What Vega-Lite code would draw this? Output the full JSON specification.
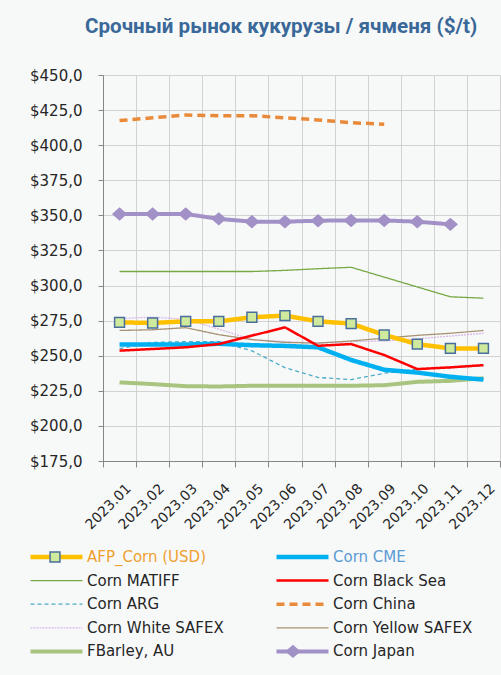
{
  "$schema": "https://vega.github.io/schema/vega-lite/v6.json",
  "width": 397,
  "height": 386,
  "autosize": {"type": "none"},
  "padding": {"left": 103, "top": 75, "right": 1, "bottom": 214},
  "background": "#F7F9F9",
  "title": {
    "text": "Срочный рынок кукурузы / ячменя ($/t)",
    "frame": "group",
    "anchor": "start",
    "dx": -18,
    "offset": 14,
    "baseline": "alphabetic",
    "font": "Roboto",
    "fontSize": 20.6,
    "fontWeight": "bold",
    "color": "#3A6898"
  },
  "config": {
    "view": {"stroke": null},
    "axis": {
      "domainColor": "#868686",
      "tickColor": "#868686",
      "gridColor": "#D2D2D2",
      "labelColor": "#262626",
      "labelFont": "DejaVu Sans",
      "labelOverlap": false
    }
  },
  "data": {
    "values": [
      {"series": "FBarley, AU", "month": "2023.01", "value": 231},
      {"series": "FBarley, AU", "month": "2023.02", "value": 229.8},
      {"series": "FBarley, AU", "month": "2023.03", "value": 228.3},
      {"series": "FBarley, AU", "month": "2023.04", "value": 228.1},
      {"series": "FBarley, AU", "month": "2023.05", "value": 228.6},
      {"series": "FBarley, AU", "month": "2023.06", "value": 228.6},
      {"series": "FBarley, AU", "month": "2023.07", "value": 228.6},
      {"series": "FBarley, AU", "month": "2023.08", "value": 228.6},
      {"series": "FBarley, AU", "month": "2023.09", "value": 229},
      {"series": "FBarley, AU", "month": "2023.10", "value": 231.4},
      {"series": "FBarley, AU", "month": "2023.11", "value": 232.1},
      {"series": "FBarley, AU", "month": "2023.12", "value": 234},
      {"series": "Corn ARG", "month": "2023.01", "value": 255},
      {"series": "Corn ARG", "month": "2023.02", "value": 259.5},
      {"series": "Corn ARG", "month": "2023.03", "value": 260},
      {"series": "Corn ARG", "month": "2023.04", "value": 260},
      {"series": "Corn ARG", "month": "2023.05", "value": 253.5},
      {"series": "Corn ARG", "month": "2023.06", "value": 241.5},
      {"series": "Corn ARG", "month": "2023.07", "value": 234.5},
      {"series": "Corn ARG", "month": "2023.08", "value": 233},
      {"series": "Corn ARG", "month": "2023.09", "value": 237.5},
      {"series": "Corn ARG", "month": "2023.10", "value": 240.5},
      {"series": "Corn ARG", "month": "2023.11", "value": 241.5},
      {"series": "Corn ARG", "month": "2023.12", "value": 243},
      {"series": "Corn White  SAFEX", "month": "2023.01", "value": 276.5},
      {"series": "Corn White  SAFEX", "month": "2023.02", "value": 277.5},
      {"series": "Corn White  SAFEX", "month": "2023.03", "value": 276},
      {"series": "Corn White  SAFEX", "month": "2023.04", "value": 269},
      {"series": "Corn White  SAFEX", "month": "2023.05", "value": 261.5},
      {"series": "Corn White  SAFEX", "month": "2023.06", "value": 260},
      {"series": "Corn White  SAFEX", "month": "2023.07", "value": 259},
      {"series": "Corn White  SAFEX", "month": "2023.08", "value": 260},
      {"series": "Corn White  SAFEX", "month": "2023.09", "value": 260.5},
      {"series": "Corn White  SAFEX", "month": "2023.10", "value": 262},
      {"series": "Corn White  SAFEX", "month": "2023.11", "value": 264},
      {"series": "Corn White  SAFEX", "month": "2023.12", "value": 266},
      {"series": "Corn Yellow SAFEX", "month": "2023.01", "value": 268},
      {"series": "Corn Yellow SAFEX", "month": "2023.02", "value": 268.5},
      {"series": "Corn Yellow SAFEX", "month": "2023.03", "value": 270},
      {"series": "Corn Yellow SAFEX", "month": "2023.04", "value": 265},
      {"series": "Corn Yellow SAFEX", "month": "2023.05", "value": 261.5},
      {"series": "Corn Yellow SAFEX", "month": "2023.06", "value": 259.5},
      {"series": "Corn Yellow SAFEX", "month": "2023.07", "value": 259},
      {"series": "Corn Yellow SAFEX", "month": "2023.08", "value": 260.5},
      {"series": "Corn Yellow SAFEX", "month": "2023.09", "value": 262.5},
      {"series": "Corn Yellow SAFEX", "month": "2023.10", "value": 264.5},
      {"series": "Corn Yellow SAFEX", "month": "2023.11", "value": 266},
      {"series": "Corn Yellow SAFEX", "month": "2023.12", "value": 268},
      {"series": "Corn MATIFF", "month": "2023.01", "value": 310},
      {"series": "Corn MATIFF", "month": "2023.02", "value": 310},
      {"series": "Corn MATIFF", "month": "2023.03", "value": 310},
      {"series": "Corn MATIFF", "month": "2023.04", "value": 310},
      {"series": "Corn MATIFF", "month": "2023.05", "value": 310},
      {"series": "Corn MATIFF", "month": "2023.06", "value": 310.8},
      {"series": "Corn MATIFF", "month": "2023.07", "value": 312},
      {"series": "Corn MATIFF", "month": "2023.08", "value": 313},
      {"series": "Corn MATIFF", "month": "2023.09", "value": 306},
      {"series": "Corn MATIFF", "month": "2023.10", "value": 299},
      {"series": "Corn MATIFF", "month": "2023.11", "value": 292},
      {"series": "Corn MATIFF", "month": "2023.12", "value": 291},
      {"series": "Corn China", "month": "2023.01", "value": 417.5},
      {"series": "Corn China", "month": "2023.02", "value": 419.5},
      {"series": "Corn China", "month": "2023.03", "value": 421.5},
      {"series": "Corn China", "month": "2023.04", "value": 421},
      {"series": "Corn China", "month": "2023.05", "value": 421},
      {"series": "Corn China", "month": "2023.06", "value": 419.5},
      {"series": "Corn China", "month": "2023.07", "value": 418},
      {"series": "Corn China", "month": "2023.08", "value": 416},
      {"series": "Corn China", "month": "2023.09", "value": 415},
      {"series": "Corn Japan", "month": "2023.01", "value": 351},
      {"series": "Corn Japan", "month": "2023.02", "value": 351},
      {"series": "Corn Japan", "month": "2023.03", "value": 351},
      {"series": "Corn Japan", "month": "2023.04", "value": 347.5},
      {"series": "Corn Japan", "month": "2023.05", "value": 345.5},
      {"series": "Corn Japan", "month": "2023.06", "value": 345.5},
      {"series": "Corn Japan", "month": "2023.07", "value": 346.2},
      {"series": "Corn Japan", "month": "2023.08", "value": 346.4},
      {"series": "Corn Japan", "month": "2023.09", "value": 346.4},
      {"series": "Corn Japan", "month": "2023.10", "value": 345.5},
      {"series": "Corn Japan", "month": "2023.11", "value": 343.6},
      {"series": "Corn CME", "month": "2023.01", "value": 258},
      {"series": "Corn CME", "month": "2023.02", "value": 258},
      {"series": "Corn CME", "month": "2023.03", "value": 258},
      {"series": "Corn CME", "month": "2023.04", "value": 258.5},
      {"series": "Corn CME", "month": "2023.05", "value": 257.5},
      {"series": "Corn CME", "month": "2023.06", "value": 257},
      {"series": "Corn CME", "month": "2023.07", "value": 256},
      {"series": "Corn CME", "month": "2023.08", "value": 247},
      {"series": "Corn CME", "month": "2023.09", "value": 240},
      {"series": "Corn CME", "month": "2023.10", "value": 238},
      {"series": "Corn CME", "month": "2023.11", "value": 235},
      {"series": "Corn CME", "month": "2023.12", "value": 233},
      {"series": "Corn Black Sea", "month": "2023.01", "value": 253.6},
      {"series": "Corn Black Sea", "month": "2023.02", "value": 254.8},
      {"series": "Corn Black Sea", "month": "2023.03", "value": 256},
      {"series": "Corn Black Sea", "month": "2023.04", "value": 258.3},
      {"series": "Corn Black Sea", "month": "2023.05", "value": 264.3},
      {"series": "Corn Black Sea", "month": "2023.06", "value": 270.2},
      {"series": "Corn Black Sea", "month": "2023.07", "value": 257.1},
      {"series": "Corn Black Sea", "month": "2023.08", "value": 258.3},
      {"series": "Corn Black Sea", "month": "2023.09", "value": 250.5},
      {"series": "Corn Black Sea", "month": "2023.10", "value": 240.5},
      {"series": "Corn Black Sea", "month": "2023.11", "value": 241.7},
      {"series": "Corn Black Sea", "month": "2023.12", "value": 243.3},
      {"series": "AFP_Corn (USD)", "month": "2023.01", "value": 273.8},
      {"series": "AFP_Corn (USD)", "month": "2023.02", "value": 273.3},
      {"series": "AFP_Corn (USD)", "month": "2023.03", "value": 274.5},
      {"series": "AFP_Corn (USD)", "month": "2023.04", "value": 274.5},
      {"series": "AFP_Corn (USD)", "month": "2023.05", "value": 277.4},
      {"series": "AFP_Corn (USD)", "month": "2023.06", "value": 278.6},
      {"series": "AFP_Corn (USD)", "month": "2023.07", "value": 274.5},
      {"series": "AFP_Corn (USD)", "month": "2023.08", "value": 272.9},
      {"series": "AFP_Corn (USD)", "month": "2023.09", "value": 264.8},
      {"series": "AFP_Corn (USD)", "month": "2023.10", "value": 258.3},
      {"series": "AFP_Corn (USD)", "month": "2023.11", "value": 255.2},
      {"series": "AFP_Corn (USD)", "month": "2023.12", "value": 255.2}
    ]
  },
  "encoding": {
    "x": {
      "field": "month", "type": "ordinal", "bandPosition": 0.5,
      "scale": {"type": "band", "paddingInner": 0, "paddingOuter": 0},
      "axis": {
        "title": null, "labelAngle": -45, "labelAlign": "right", "labelBaseline": "middle",
        "labelFontSize": 14, "labelPadding": 19, "labelOffset": 9,
        "tickBand": "extent", "grid": true, "tickSize": 6
      }
    },
    "y": {
      "field": "value", "type": "quantitative",
      "scale": {"domain": [175, 450], "nice": false, "zero": false},
      "axis": {
        "title": null, "values": [175, 200, 225, 250, 275, 300, 325, 350, 375, 400, 425, 450],
        "labelExpr": "'$' + replace(format(datum.value, '.1f'), '.', ',')",
        "labelFontSize": 15, "labelPadding": 16, "tickSize": 5, "grid": true
      }
    }
  },
  "layer": [
    {
      "mark": {"type": "line", "strokeJoin": "round"},
      "encoding": {
        "color": {
          "field": "series", "type": "nominal",
          "scale": {
            "domain": ["AFP_Corn (USD)", "Corn MATIFF", "Corn ARG", "Corn White  SAFEX", "FBarley, AU", "Corn CME", "Corn Black Sea", "Corn China", "Corn Yellow SAFEX", "Corn Japan"],
            "range": ["#FFC000", "#76A844", "#4BACC6", "#D9B8E6", "#A9C47F", "#00B0F0", "#FF0000", "#E98A3A", "#A89274", "#A291C6"]
          },
          "legend": {
            "title": null, "orient": "none", "legendX": -75, "legendY": 472, "columns": 2,
            "columnPadding": 45, "rowPadding": 3.6, "clipHeight": 20, "symbolSize": 2704,
            "symbolType": "stroke", "labelOffset": 2, "labelFont": "DejaVu Sans", "labelFontSize": 15,
            "labelColor": "#262626", "labelLimit": 300,
            "encode": {"labels": {"update": {"fill": {"signal": "datum.value === 'AFP_Corn (USD)' ? '#F0A030' : datum.value === 'Corn CME' ? '#5B9BD5' : '#262626'"}}}}
          }
        },
        "strokeDash": {
          "field": "series", "type": "nominal",
          "scale": {
            "domain": ["AFP_Corn (USD)", "Corn MATIFF", "Corn ARG", "Corn White  SAFEX", "FBarley, AU", "Corn CME", "Corn Black Sea", "Corn China", "Corn Yellow SAFEX", "Corn Japan"],
            "range": [[1, 0], [1, 0], [4, 3], [2, 1], [1, 0], [1, 0], [1, 0], [8, 5], [1, 0], [1, 0]]
          },
          "legend": {
            "title": null, "orient": "none", "legendX": -75, "legendY": 472, "columns": 2,
            "columnPadding": 45, "rowPadding": 3.6, "clipHeight": 20, "symbolSize": 2704,
            "symbolType": "stroke", "labelOffset": 2, "labelFont": "DejaVu Sans", "labelFontSize": 15,
            "labelColor": "#262626", "labelLimit": 300,
            "encode": {"labels": {"update": {"fill": {"signal": "datum.value === 'AFP_Corn (USD)' ? '#F0A030' : datum.value === 'Corn CME' ? '#5B9BD5' : '#262626'"}}}}
          }
        },
        "strokeWidth": {
          "field": "series", "type": "nominal",
          "scale": {
            "type": "ordinal",
            "domain": ["AFP_Corn (USD)", "Corn MATIFF", "Corn ARG", "Corn White  SAFEX", "FBarley, AU", "Corn CME", "Corn Black Sea", "Corn China", "Corn Yellow SAFEX", "Corn Japan"],
            "range": [4.5, 1.3, 1.3, 1.3, 4, 4.5, 2.5, 3.5, 1.3, 4]
          },
          "legend": {
            "title": null, "orient": "none", "legendX": -75, "legendY": 472, "columns": 2,
            "columnPadding": 45, "rowPadding": 3.6, "clipHeight": 20, "symbolSize": 2704,
            "symbolType": "stroke", "labelOffset": 2, "labelFont": "DejaVu Sans", "labelFontSize": 15,
            "labelColor": "#262626", "labelLimit": 300,
            "encode": {"labels": {"update": {"fill": {"signal": "datum.value === 'AFP_Corn (USD)' ? '#F0A030' : datum.value === 'Corn CME' ? '#5B9BD5' : '#262626'"}}}}
          }
        }
      }
    },
    {
      "transform": [{"filter": "datum.series === 'AFP_Corn (USD)' || datum.series === 'Corn Japan'"}],
      "mark": {"type": "point", "filled": true, "size": 2704, "strokeWidth": 1.5, "opacity": 1},
      "encoding": {
        "shape": {
          "field": "series", "type": "nominal",
          "scale": {
            "domain": ["AFP_Corn (USD)", "Corn MATIFF", "Corn ARG", "Corn White  SAFEX", "FBarley, AU", "", "Corn CME", "Corn Black Sea", "Corn China", "Corn Yellow SAFEX", "Corn Japan", " "],
            "range": ["M-0.19,-0.19H0.19V0.19H-0.19Z", "M0,0Z", "M0,0Z", "M0,0Z", "M0,0Z", "M0,0Z", "M0,0Z", "M0,0Z", "M0,0Z", "M0,0Z", "M-0.25,0L0,-0.22L0.25,0L0,0.22Z", "M0,0Z"]
          },
          "legend": {
            "title": null, "orient": "none", "legendX": -75, "legendY": 472, "columns": 2,
            "columnPadding": 182, "rowPadding": 3.6, "clipHeight": 20, "symbolSize": 2704,
            "labelOffset": 2, "labelExpr": "''", "symbolStrokeWidth": 1.5
          }
        },
        "fill": {
          "field": "series", "type": "nominal",
          "scale": {
            "domain": ["AFP_Corn (USD)", "Corn MATIFF", "Corn ARG", "Corn White  SAFEX", "FBarley, AU", "", "Corn CME", "Corn Black Sea", "Corn China", "Corn Yellow SAFEX", "Corn Japan", " "],
            "range": ["#CFEA9C", "#CFEA9C", "#CFEA9C", "#CFEA9C", "#CFEA9C", "#CFEA9C", "#CFEA9C", "#CFEA9C", "#CFEA9C", "#CFEA9C", "#A291C6", "#CFEA9C"]
          },
          "legend": {
            "title": null, "orient": "none", "legendX": -75, "legendY": 472, "columns": 2,
            "columnPadding": 182, "rowPadding": 3.6, "clipHeight": 20, "symbolSize": 2704,
            "labelOffset": 2, "labelExpr": "''", "symbolStrokeWidth": 1.5
          }
        },
        "stroke": {
          "field": "series", "type": "nominal",
          "scale": {
            "domain": ["AFP_Corn (USD)", "Corn MATIFF", "Corn ARG", "Corn White  SAFEX", "FBarley, AU", "", "Corn CME", "Corn Black Sea", "Corn China", "Corn Yellow SAFEX", "Corn Japan", " "],
            "range": ["#4A6E9C", "#4A6E9C", "#4A6E9C", "#4A6E9C", "#4A6E9C", "#4A6E9C", "#4A6E9C", "#4A6E9C", "#4A6E9C", "#4A6E9C", "#A291C6", "#4A6E9C"]
          },
          "legend": {
            "title": null, "orient": "none", "legendX": -75, "legendY": 472, "columns": 2,
            "columnPadding": 182, "rowPadding": 3.6, "clipHeight": 20, "symbolSize": 2704,
            "labelOffset": 2, "labelExpr": "''", "symbolStrokeWidth": 1.5
          }
        }
      }
    }
  ]
}
